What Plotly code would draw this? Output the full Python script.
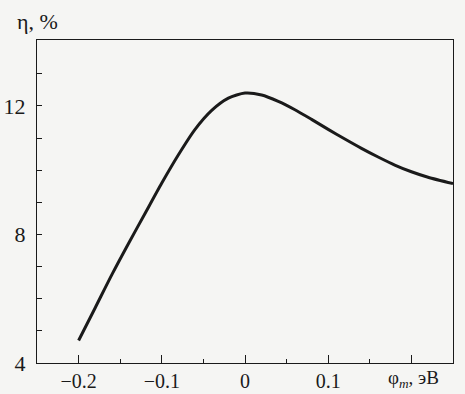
import plotly.graph_objects as go

phi = [-0.2, -0.18, -0.16, -0.14, -0.12, -0.10, -0.08, -0.06, -0.04, -0.02, 0.0,
       0.02, 0.04, 0.06, 0.08, 0.10, 0.12, 0.14, 0.16, 0.18, 0.20, 0.22, 0.25]
eta = [4.70, 5.72, 6.75, 7.72, 8.66, 9.60, 10.48, 11.27, 11.86, 12.24, 12.40,
       12.34, 12.14, 11.88, 11.58, 11.27, 10.97, 10.68, 10.41, 10.16, 9.95, 9.78, 9.58]

x_tickvals = [-0.2, -0.1, 0, 0.1]
x_ticktext = ["\u22120.2", "\u22120.1", "0", "0.1"]
y_tickvals = [4, 5, 6, 7, 8, 9, 10, 11, 12, 13]
y_ticktext = ["4", "", "", "", "8", "", "", "", "12", ""]

ink = "#1a1a1a"
family = "Liberation Serif, Times New Roman, serif"
font = dict(family=family, size=22, color=ink)
xfont = dict(family=family, size=20, color=ink)

fig = go.Figure()
fig.add_trace(go.Scatter(x=phi, y=eta, mode="lines",
                         line=dict(color=ink, width=3, shape="spline", smoothing=0.7),
                         showlegend=False, hoverinfo="skip"))

fig.update_layout(
    width=465, height=394,
    margin=dict(l=37, r=12, t=40, b=31),
    paper_bgcolor="#f5f5f3", plot_bgcolor="#f5f5f3",
    font=font,
    xaxis=dict(range=[-0.25, 0.25], tickvals=x_tickvals + [0.2], ticktext=x_ticktext + [""],
               ticks="inside", ticklen=8, tickwidth=1.3, tickcolor=ink,
               showline=True, linecolor=ink, linewidth=1.3, mirror=True,
               showgrid=False, zeroline=False, automargin=False,
               minor=dict(tickvals=[-0.15, -0.05, 0.05, 0.15], ticks="inside", ticklen=4,
                          tickwidth=1.2, tickcolor=ink, showgrid=False),
               tickfont=xfont),
    yaxis=dict(range=[4, 14.05], tickvals=y_tickvals, ticktext=y_ticktext,
               ticks="inside", ticklen=5, tickwidth=1.3, tickcolor=ink,
               showline=True, linecolor=ink, linewidth=1.3, mirror=True,
               showgrid=False, zeroline=False, tickfont=font, ticklabelstandoff=6,
               automargin=False),
)

fig.add_annotation(text="\u03b7, %", xref="paper", yref="paper", x=0, y=1,
                   xanchor="center", yanchor="bottom", xshift=0, yshift=4, showarrow=False, font=font)
fig.add_annotation(text="\u03c6<i><sub>m</sub></i>, эВ", xref="paper", yref="paper", x=0.84, y=0,
                   xanchor="left", yanchor="top", yshift=-2, showarrow=False,
                   font=dict(family=family, size=19, color=ink))

fig.write_html("out.html", config={"displayModeBar": False})

with open("out.html", "r", encoding="utf-8") as f:
    html = f.read()
html = html.replace("<head>", "<head><style>html,body{margin:0;padding:0;background:#f5f5f3;}</style>", 1)
with open("out.html", "w", encoding="utf-8") as f:
    f.write(html)
